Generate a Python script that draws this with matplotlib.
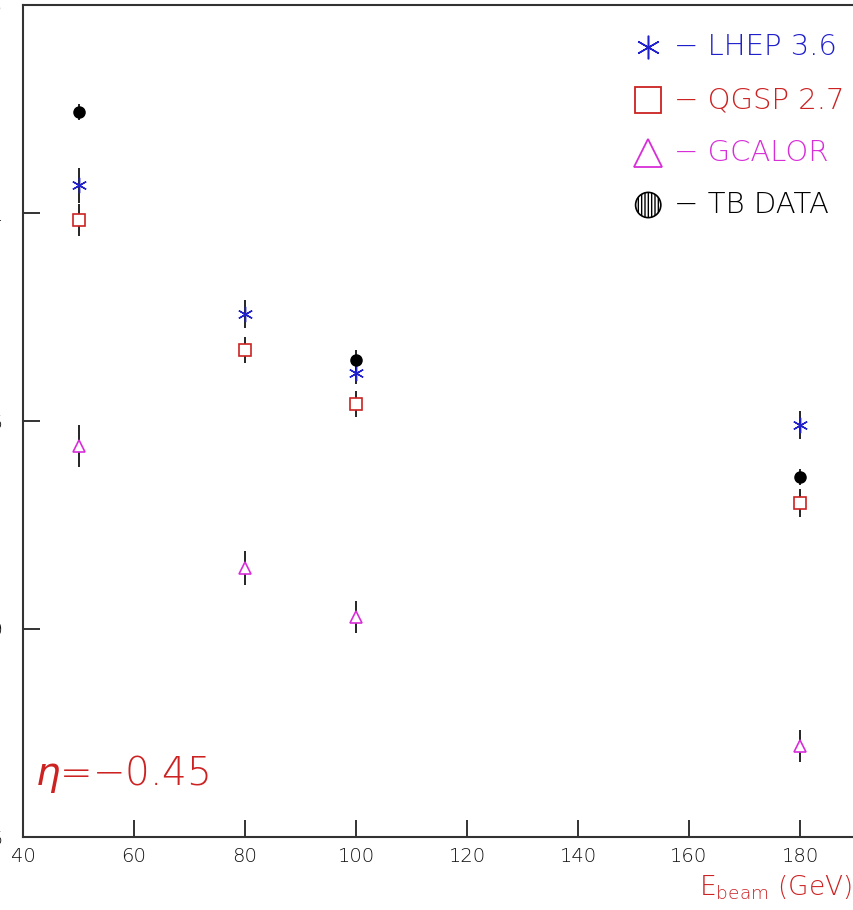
import matplotlib
matplotlib.use("Agg")
import matplotlib.pyplot as plt

# beam energies (GeV)
e_data = [50, 100, 180]
e_mc = [50, 80, 100, 180]

# test beam data
tb_val = [1.0243, 0.9647, 0.9365]
tb_err = [0.0020, 0.0024, 0.0019]

# simulations
lhep_val = [1.0067, 0.9757, 0.9615, 0.9490]
lhep_err = [0.0042, 0.0034, 0.0026, 0.0034]
qgsp_val = [0.9983, 0.9671, 0.9541, 0.9303]
qgsp_err = [0.0038, 0.0032, 0.0031, 0.0034]
gcal_val = [0.9440, 0.9147, 0.9029, 0.8719]
gcal_err = [0.0050, 0.0041, 0.0038, 0.0038]

blue = '#1f1fcc'
red = '#cc2222'
magenta = '#d82ed8'

plt.rcParams['font.family'] = ['DejaVu Sans']
plt.rcParams['font.weight'] = 'light'
plt.rcParams['mathtext.fontset'] = 'dejavusans'

fig = plt.figure(figsize=(8.54, 9.10), dpi=100)
ax = fig.add_axes([23/854, 73/910, 832.5/854, 832/910])

ebar = dict(ecolor='black', elinewidth=1.2, capsize=0, linestyle='none')
ax.errorbar(e_mc, gcal_val, yerr=gcal_err, marker='^', ms=9, mfc='white',
            mec=magenta, mew=1.2, **ebar)
ax.errorbar(e_mc, qgsp_val, yerr=qgsp_err, marker='s', ms=9, mfc='white',
            mec=red, mew=1.2, **ebar)
ax.errorbar(e_mc, lhep_val, yerr=lhep_err, marker=(6, 2, 0), ms=11,
            mec=blue, mew=1.0, **ebar)
ax.errorbar(e_data, tb_val, yerr=tb_err, marker='o', ms=8, mfc='black',
            mec='black', **ebar)

ax.set_xlim(40, 190)
ax.set_ylim(0.85, 1.05)
ax.set_xticks(range(40, 181, 20))
ax.set_yticks([0.85, 0.90, 0.95, 1.00, 1.05])
ax.set_yticklabels(['0.85', '0.9', '0.95', '1', '1.05'])
ax.tick_params(direction='in', length=12, width=1.2, labelsize=14,
               colors='#111111')
ax.tick_params(axis='x', pad=7)
ax.tick_params(axis='y', pad=14)
for s in ax.spines.values():
    s.set_linewidth(1.5)
    s.set_color('#333333')

# legend drawn as text, PAW style
rows = [0.9495, 0.8858, 0.8221, 0.7596]
labels = ['LHEP 3.6', 'QGSP 2.7', 'GCALOR', 'TB DATA']
colors = [blue, red, magenta, 'black']
mx, tx = 0.751, 0.782
tr = ax.transAxes
ax.plot([mx], [rows[0]], marker=(6, 2, 0), ms=17, mec=blue, mew=1.1,
        transform=tr, clip_on=False)
ax.plot([mx], [rows[1]], marker='s', ms=19, mfc='white', mec=red, mew=1.3,
        transform=tr)
ax.plot([mx], [rows[2]], marker='^', ms=20, mfc='white', mec=magenta, mew=1.3,
        transform=tr)
ax.scatter([mx], [rows[3]], s=330, marker='o', facecolor='white',
           edgecolor='black', hatch='|||||', linewidth=1.2, transform=tr)
for y, lab, c in zip(rows, labels, colors):
    ax.text(tx, y, '\u2212 ' + lab, color=c, fontsize=21, va='center',
            ha='left', transform=tr)

ax.text(0.0144, 0.0625, '$\\eta$=\u22120.45', color=red, fontsize=28,
        ha='left', va='baseline', transform=tr)

fig.text(852/854, 15/910, r'E$_{\rm beam}$ (GeV)', color=red, fontsize=19,
         ha='right', va='baseline')

fig.savefig('out.png', dpi=100)
